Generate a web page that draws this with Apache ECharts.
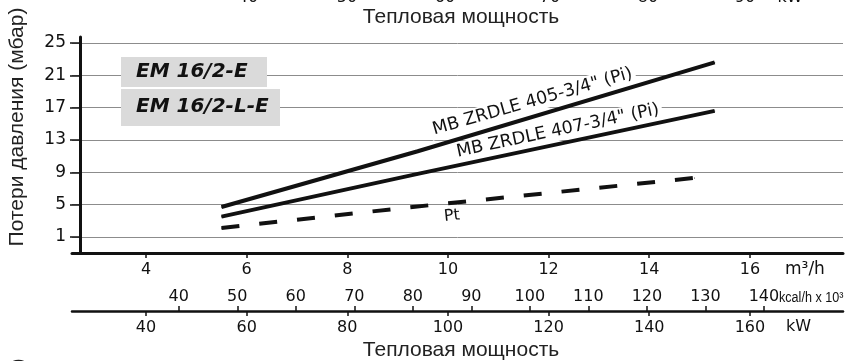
<!DOCTYPE html>
<html>
<head>
<meta charset="utf-8">
<script src="https://cdn.jsdelivr.net/npm/echarts@6/dist/echarts.min.js"></script>
<style>
  html, body { margin: 0; padding: 0; background: #fff; }
  #chart { width: 863px; height: 361px; }
</style>
</head>
<body>
<div id="chart"></div>
<script>
// readings: gas flow (m3/h) -> pressure loss (mbar)
const flow405 = [5.5, 9.4, 15.3]
const loss405 = [4.7, 11.6, 22.6]
const flow407 = [5.5, 9.4, 15.3]
const loss407 = [3.5, 8.8, 16.6]
const flowPt = [5.5, 9.3, 14.9]
const lossPt = [2.1, 4.7, 8.3]

const lossTicks = [1, 5, 9, 13, 17, 21, 25]
const flowTicks = [4, 6, 8, 10, 12, 14, 16]
const kcalTicks = [40, 50, 60, 70, 80, 90, 100, 110, 120, 130, 140]
const kwTicks = [40, 60, 80, 100, 120, 140, 160]
const topCutTicks = ['40', '50', '60', '70', '80', '90']
const models = ['EM 16/2-E', 'EM 16/2-L-E']
const curveNames = ['MB ZRDLE 405-3/4" (Pi)', 'MB ZRDLE 407-3/4" (Pi)', 'Pt']

const flowMin = 2.53
const flowMax = 17.85
const KW_PER_M3H = 10
const KCAL_PER_KW = 0.86

const ink = '#111'
const tickFont = 'DejaVu Sans'

const chart = echarts.init(document.getElementById('chart'))

const pairs = (xs, ys) => xs.map((x, i) => [x, ys[i]])

// label hangs on the middle reading, offset is along / across the rotated line
const curve = (name, xs, ys, dash, z, label) => ({
  name,
  type: 'line',
  data: pairs(xs, ys).map((p, i) => (i === 1 ? { value: p, label } : p)),
  symbol: 'circle',
  symbolSize: 1,
  showSymbol: true,
  lineStyle: { color: ink, width: 4, type: dash, cap: 'butt' },
  itemStyle: { color: ink },
  label: { show: false },
  emphasis: { disabled: true },
  silent: true,
  z,
})

const curveLabel = (text, rotate, offset, size) => ({
  show: true,
  position: 'inside',
  formatter: text,
  rotate,
  offset,
  fontFamily: tickFont,
  fontSize: size,
  color: ink,
  backgroundColor: '#fff',
  padding: [1, 3],
})

const option = {
  backgroundColor: '#fff',
  animation: false,
  grid: { left: 72, right: 20, top: 37, bottom: 108, containLabel: false },
  xAxis: [
    {
      type: 'value',
      min: flowMin,
      max: flowMax,
      position: 'bottom',
      axisLine: { onZero: false, lineStyle: { color: ink, width: 3 } },
      axisTick: { customValues: flowTicks, length: 5, lineStyle: { color: ink, width: 1.5 } },
      axisLabel: { customValues: flowTicks, margin: 9, color: ink, fontSize: 16, fontFamily: tickFont },
      splitLine: { show: false },
    },
    {
      type: 'value',
      min: flowMin * KW_PER_M3H * KCAL_PER_KW,
      max: flowMax * KW_PER_M3H * KCAL_PER_KW,
      position: 'bottom',
      offset: 58,
      axisLine: { onZero: false, lineStyle: { color: ink, width: 2.5 } },
      axisTick: { customValues: kcalTicks, inside: true, length: 5, lineStyle: { color: ink, width: 1.5 } },
      axisLabel: { customValues: kcalTicks, inside: true, margin: 6, color: ink, fontSize: 16, fontFamily: tickFont },
      splitLine: { show: false },
    },
    {
      type: 'value',
      min: flowMin * KW_PER_M3H,
      max: flowMax * KW_PER_M3H,
      position: 'bottom',
      offset: 58,
      axisLine: { show: false, onZero: false },
      axisTick: { customValues: kwTicks, length: 5, lineStyle: { color: ink, width: 1.5 } },
      axisLabel: { customValues: kwTicks, margin: 9, color: ink, fontSize: 16, fontFamily: tickFont },
      splitLine: { show: false },
    },
  ],
  yAxis: {
    type: 'value',
    min: -1,
    max: 25.75,
    offset: -8,
    axisLine: { show: true, lineStyle: { color: ink, width: 3 } },
    axisTick: { show: true, customValues: lossTicks, length: 10, lineStyle: { color: ink, width: 1.5 } },
    axisLabel: { customValues: lossTicks, margin: 14, color: ink, fontSize: 17, fontFamily: tickFont },
    splitLine: { show: true, lineStyle: { color: '#8c8c8c', width: 1 } },
  },
  series: [
    curve(curveNames[1], flow407, loss407, 'solid', 3, curveLabel(curveNames[1], 12, [146, -13], 17.5)),
    curve(curveNames[2], flowPt, lossPt, [18, 20], 4, curveLabel(curveNames[2], 6, [38, 13], 16)),
    curve(curveNames[0], flow405, loss405, 'solid', 5, curveLabel(curveNames[0], 16, [124, -16], 17.5)),
  ],
  graphic: [
    // model plates
    { type: 'rect', z: 100, shape: { x: 121, y: 57, width: 146, height: 30 }, style: { fill: '#dadada' } },
    { type: 'rect', z: 100, shape: { x: 121, y: 89, width: 159, height: 37 }, style: { fill: '#dadada' } },
    { type: 'text', z: 101, x: 136, y: 72, style: { text: models[0], font: 'italic bold 20px "DejaVu Sans"', fill: ink, verticalAlign: 'middle' } },
    { type: 'text', z: 101, x: 136, y: 107, style: { text: models[1], font: 'italic bold 20px "DejaVu Sans"', fill: ink, verticalAlign: 'middle' } },
    // axis titles
    { type: 'text', z: 101, x: 17, y: 127, rotation: Math.PI / 2, style: { text: 'Потери давления (мбар)', font: '21px "Liberation Sans"', fill: '#222', align: 'center', verticalAlign: 'middle' } },
    { type: 'text', z: 101, x: 461, y: 17, style: { text: 'Тепловая мощность', font: '21px "Liberation Sans"', fill: '#222', align: 'center', verticalAlign: 'middle' } },
    { type: 'text', z: 101, x: 461, y: 350, style: { text: 'Тепловая мощность', font: '21px "Liberation Sans"', fill: '#222', align: 'center', verticalAlign: 'middle' } },
    // units on the three scales
    { type: 'text', z: 101, x: 785, y: 270, style: { text: 'm³/h', font: '17px "DejaVu Sans"', fill: ink, verticalAlign: 'middle' } },
    { type: 'text', z: 101, x: 779, y: 298, scaleX: 0.9, style: { text: 'kcal/h x 10³', font: '14px "Liberation Sans"', fill: ink, verticalAlign: 'middle' } },
    { type: 'text', z: 101, x: 786, y: 327, style: { text: 'kW', font: '16px "DejaVu Sans"', fill: ink, verticalAlign: 'middle' } },
    // the diagrams above and below are cut by the frame
    ...topCutTicks.map((t, i) => ({
      type: 'text', z: 101, x: [248, 347, 445, 550, 648, 745][i], y: 6,
      style: { text: t, font: '16px "DejaVu Sans"', fill: ink, align: 'center', verticalAlign: 'bottom' },
    })),
    { type: 'text', z: 101, x: 790, y: 6, style: { text: 'kW', font: '16px "DejaVu Sans"', fill: ink, align: 'center', verticalAlign: 'bottom' } },
    { type: 'text', z: 101, x: 18, y: 362, rotation: Math.PI / 2, style: { text: ')', font: '21px "Liberation Sans"', fill: '#222', align: 'center', verticalAlign: 'middle' } },
  ],
}

chart.setOption(option)
window.addEventListener('resize', () => chart.resize())
</script>
</body>
</html>
